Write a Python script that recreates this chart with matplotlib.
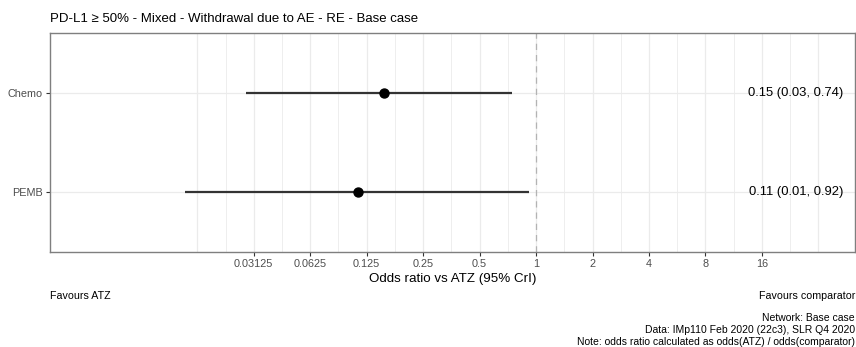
import numpy as np
import matplotlib.pyplot as plt
from matplotlib.ticker import FixedLocator, NullFormatter

plt.rcParams['font.family'] = ['Liberation Sans', 'DejaVu Sans']

treatments = ["Chemo", "PEMB"]
odds_ratio = [0.154, 0.113]
ci_low = [0.0285, 0.0134]
ci_high = [0.74, 0.92]

tick_values = [0.03125, 0.0625, 0.125, 0.25, 0.5, 1, 2, 4, 8, 16]
tick_labels = ["0.03125", "0.0625", "0.125", "0.25", "0.5", "1", "2", "4", "8", "16"]

title = "PD-L1 \u2265 50% - Mixed - Withdrawal due to AE - RE - Base case"
caption = ["Network: Base case",
           "Data: IMp110 Feb 2020 (22c3), SLR Q4 2020",
           "Note: odds ratio calculated as odds(ATZ) / odds(comparator)"]

fig = plt.figure(figsize=(8.56, 3.47), dpi=100)
ax = fig.add_axes([50 / 856, 1 - 252 / 347, 805 / 856, 219 / 347])

ax.set_xscale('log', base=2)
ax.set_xlim(2 ** -8.61, 2 ** 5.65)
# Chemo on top, PEMB below (discrete axis, ggplot-style expansion)
ypos = np.arange(len(treatments))[::-1] + 1
ax.set_ylim(0.4, len(treatments) + 0.6)

# background grid: majors and half-step minors
grid_exps = np.arange(-6, 5.01, 0.5)
for e in grid_exps:
    ax.axvline(2 ** e, color='#ebebeb', lw=0.9 if e % 1 == 0 else 0.6, zorder=0)
for y in ypos:
    ax.axhline(y, color='#ebebeb', lw=0.9, zorder=0)

ax.axvline(1, color='#b3b3b3', lw=0.9, ls=(0, (5, 4)), zorder=1)

ax.hlines(ypos, ci_low, ci_high, color='#333333', lw=1.6, zorder=2)
ax.scatter(odds_ratio, ypos, s=42, color='black', zorder=3)

for y, m, lo, hi in zip(ypos, odds_ratio, ci_low, ci_high):
    ax.text(2 ** 5.45, y, f"{m:.2f} ({lo:.2f}, {hi:.2f})", ha='right', va='center',
            fontsize=9.4, color='black')

ax.xaxis.set_major_locator(FixedLocator(tick_values))
ax.set_xticklabels(tick_labels)
ax.xaxis.set_minor_formatter(NullFormatter())
ax.xaxis.set_minor_locator(FixedLocator([]))
ax.set_yticks(ypos)
ax.set_yticklabels(treatments)
ax.tick_params(axis='both', labelsize=7.8, labelcolor='#4d4d4d', color='#333333',
               length=3, width=0.8, pad=2)

for s in ax.spines.values():
    s.set_color('#7f7f7f')
    s.set_linewidth(1.0)

ax.set_xlabel("Odds ratio vs ATZ (95% CrI)", fontsize=9.6, labelpad=3)
fig.text(50 / 856, 1 - 19 / 347, title, ha='left', va='center', fontsize=9.5)

fig.text(50 / 856, 1 - 296 / 347, "Favours ATZ", ha='left', va='center', fontsize=7.7)
fig.text(855 / 856, 1 - 296 / 347, "Favours comparator", ha='right', va='center', fontsize=7.7)
for i, line in enumerate(caption):
    fig.text(855 / 856, 1 - (318 + 12 * i) / 347, line, ha='right', va='center', fontsize=7.5)

fig.savefig("out.png", dpi=100)
